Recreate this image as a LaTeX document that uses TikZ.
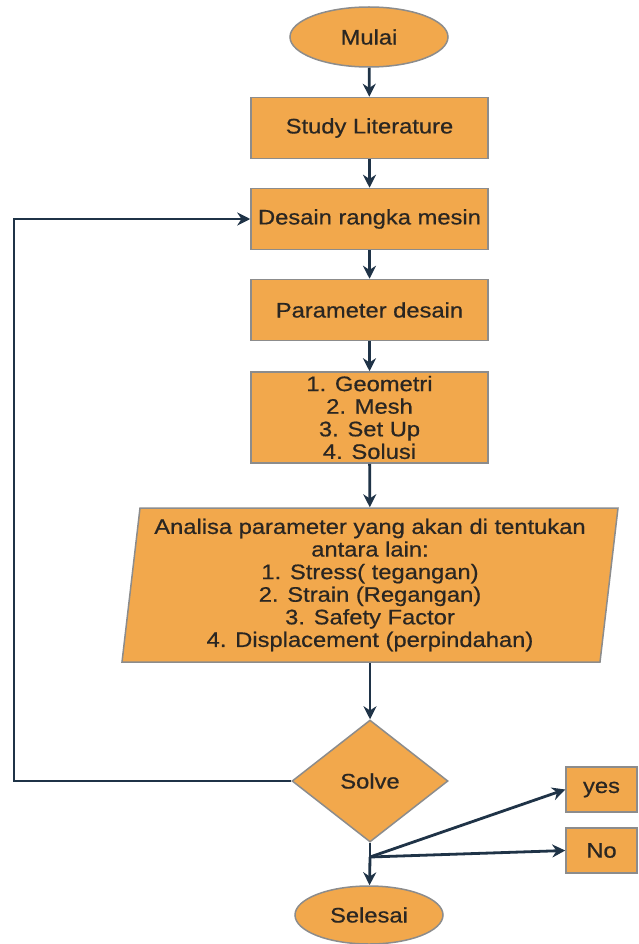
\documentclass[tikz,border=0pt]{standalone}
\usepackage{fontspec}
\setmainfont{Liberation Sans}[FakeStretch=1.13,FakeBold=0.6]
\usetikzlibrary{shapes.geometric,arrows.meta}
\definecolor{boxfill}{HTML}{F2A84C}
\definecolor{boxline}{HTML}{8C8C8C}
\definecolor{arr}{HTML}{1F3347}
\definecolor{txt}{HTML}{2A2622}
\begin{document}
\begin{tikzpicture}[x=1pt,y=-1pt,
  base/.style={fill=boxfill,draw=boxline,line width=1.5pt,text=txt,font=\fontsize{21}{22.6}\selectfont,inner sep=1pt,align=center},
  procbox/.style={base,rectangle,minimum width=237pt,minimum height=61pt},
  termbox/.style={base,ellipse,minimum width=158pt,minimum height=60pt},
  decbox/.style={base,diamond,minimum width=156pt,minimum height=122pt,aspect=1.28},
  smallbox/.style={base,rectangle,minimum width=71pt,minimum height=45pt},
  arrow/.style={draw=arr,line width=2.8pt,-{Stealth[length=13pt,width=13pt]}},
  plain/.style={draw=arr,line width=2.8pt}]
\useasboundingbox[fill=white] (0,0) rectangle (638,944);
\node[termbox] (mulai) at (369,37) {Mulai};
\node[procbox] (study) at (369.5,128) {Study Literature};
\node[procbox] (desain) at (369.5,219) {Desain rangka mesin};
\node[procbox] (param) at (369.5,310) {Parameter desain};
\node[procbox,minimum height=91pt] (geo) at (369.5,417.5) {1. Geometri\\2. Mesh\\3. Set Up\\4. Solusi};
\path[fill=boxfill,draw=boxline,line width=1.5pt] (140,508) -- (618,508) -- (600,662) -- (122,662) -- cycle;
\node[base,fill=none,draw=none,minimum width=478pt,minimum height=154pt] (ana) at (370,585)
  {Analisa parameter yang akan di tentukan\\antara lain:\\1. Stress( tegangan)\\2. Strain (Regangan)\\3. Safety Factor\\4. Displacement (perpindahan)};
\node[decbox] (solve) at (370,781) {Solve};
\node[termbox,minimum width=148pt,minimum height=58pt] (selesai) at (369,915) {Selesai};
\node[smallbox] (yes) at (601.5,789.5) {yes};
\node[smallbox] (no) at (601.5,850.5) {No};
\coordinate (j) at (370,857);
\coordinate (lp) at (14,0);
\draw[arrow] (mulai) -- (study);
\draw[arrow] (study) -- (desain);
\draw[arrow] (desain) -- (param);
\draw[arrow] (param) -- (geo);
\draw[arrow] (geo) -- (ana);
\draw[arrow] (ana) -- (solve);
\draw[plain] (solve.south) -- (j);
\draw[arrow] (j) -- (selesai);
\draw[arrow] (j) -- (yes.west);
\draw[arrow] (j) -- (no.west);
\draw[arrow] (solve.west) -- (solve.west -| lp) |- (desain.west);
\end{tikzpicture}
\end{document}
